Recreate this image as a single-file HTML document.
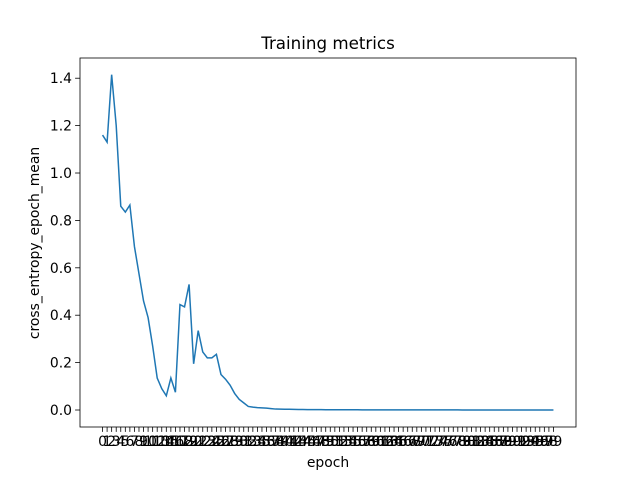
<!DOCTYPE html>
<html><head><meta charset="utf-8"><style>
body{margin:0;background:#fff}
text{font-family:"DejaVu Sans","Liberation Sans",sans-serif;fill:#000}
</style></head><body>
<svg id="chart" width="640" height="480" xmlns="http://www.w3.org/2000/svg">
<rect width="640" height="480" fill="#fff"/>
<text x="328" y="49" font-size="16.7" text-anchor="middle">Training metrics</text>
<text x="328" y="467" font-size="13.9" text-anchor="middle">epoch</text>
<text transform="translate(39,243) rotate(-90)" font-size="13.9" text-anchor="middle">cross_entropy_epoch_mean</text>
<g id="ticks"></g>
<path id="line" fill="none" stroke="#1f77b4" stroke-width="1.5"/>
<rect x="80" y="58" width="496" height="369" fill="none" stroke="#000" stroke-width="0.8"/>
</svg>
<script>
const epochs = Array.from({length:100},(_,i)=>i);
const lossValues = [1.16,1.13,1.415,1.2,0.86,0.835,0.865,0.69,0.575,0.46,0.39,0.27,0.135,0.09,0.06,0.135,0.075,0.445,0.435,0.53,0.195,0.335,0.245,0.22,0.22,0.235,0.15,0.13,0.105,0.07,0.045,0.03,0.015,0.012,0.01,0.009,0.008,0.006,0.004,0.0035,0.003,0.003,0.0025,0.002,0.002,0.0018,0.0016,0.0015,0.0014,0.0013,0.0012,0.0011,0.001,0.001,0.001,0.0009,0.0009,0.0008,0.0008,0.0008,0.0007,0.0007,0.0007,0.0006,0.0006,0.0006,0.0006,0.0005,0.0005,0.0005,0.0005,0.0005,0.0004,0.0004,0.0004,0.0004,0.0004,0.0004,0.0004,0.0003,0.0003,0.0003,0.0003,0.0003,0.0003,0.0003,0.0003,0.0003,0.0002,0.0002,0.0002,0.0002,0.0002,0.0002,0.0002,0.0002,0.0002,0.0002,0.0002,0.0002];
const yTicks = [0.0,0.2,0.4,0.6,0.8,1.0,1.2,1.4];
const L=80,R=576,T=58,B=427;
const xMin=-4.95,xMax=103.95,yMin=-0.0717,yMax=1.4853;
const xs=v=>L+(v-xMin)/(xMax-xMin)*(R-L);
const ys=v=>B-(v-yMin)/(yMax-yMin)*(B-T);
const NS="http://www.w3.org/2000/svg";
const g=document.getElementById('ticks');
function mk(tag,attrs,txt){const e=document.createElementNS(NS,tag);for(const k in attrs)e.setAttribute(k,attrs[k]);if(txt!==undefined)e.textContent=txt;g.appendChild(e);return e;}
yTicks.forEach(v=>{
  const y=ys(v);
  const t=mk('line',{x1:L-4.9,x2:L,y1:y,y2:y,stroke:'#000','stroke-width':0.8});
  
  
  const l=mk('text',{x:L-8,y:y+5,'font-size':13.9,'text-anchor':'end'},v.toFixed(1));
  
  
});
epochs.forEach(v=>{
  const x=xs(v);
  const t=mk('line',{x1:x,x2:x,y1:B,y2:B+4.9,stroke:'#000','stroke-width':0.8});
  
  
  const l=mk('text',{x:x,y:B+19,'font-size':13.9,'text-anchor':'middle'},String(v));
  
  
});
document.getElementById('line').setAttribute('d',lossValues.map((v,i)=>(i?'L':'M')+xs(epochs[i]).toFixed(2)+','+ys(v).toFixed(2)).join(''));
</script>
</body></html>
